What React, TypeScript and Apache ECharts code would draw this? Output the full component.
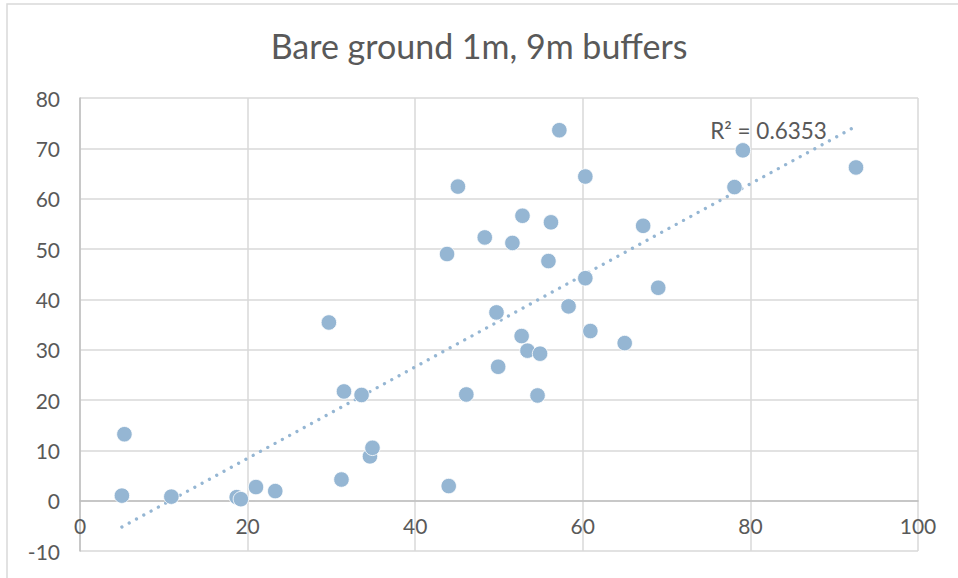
import React, { useEffect, useRef } from "react";
import * as echarts from "echarts";

// Paired plot measurements: 1m buffer (x) vs 9m buffer (y), percent bare ground
const buffer1m: number[] = [
  5.0, 5.3, 10.9, 18.7, 19.2, 21.0, 23.3, 29.7, 31.2, 31.5, 33.6, 34.6, 34.9,
  43.8, 44.0, 45.1, 46.1, 48.3, 49.7, 49.9, 51.6, 52.7, 52.8, 53.4, 54.6, 54.9,
  55.9, 56.2, 57.2, 58.3, 60.3, 60.3, 60.9, 65.0, 67.2, 69.0, 78.1, 79.1, 92.6,
];
const buffer9m: number[] = [
  1.0, 13.2, 0.8, 0.7, 0.3, 2.7, 1.9, 35.4, 4.2, 21.7, 21.0, 8.8, 10.5,
  49.0, 2.9, 62.4, 21.1, 52.3, 37.4, 26.6, 51.2, 32.7, 56.6, 29.8, 20.9, 29.2,
  47.6, 55.3, 73.6, 38.6, 64.4, 44.2, 33.7, 31.3, 54.6, 42.3, 62.3, 69.6, 66.2,
];

// Linear trendline y = slope * x + intercept
const trendSlope = 0.909;
const trendIntercept = -9.78;

const xTicks = { min: 0, max: 100, interval: 20 };
const yTicks = { min: -10, max: 80, interval: 10 };
const titleText = "Bare ground 1m, 9m buffers";
const rSquaredText = "R² = 0.6353";
const rSquaredAnchor = [75.2, 73.5];

const POINT_COLOR = "#95b6d3";
const TEXT_COLOR = "#595959";
const FONT = "Lato, 'Open Sans', sans-serif";

const frame = {
  type: "rect",
  shape: { x: 7, y: 4, width: 1000, height: 1000 },
  style: { fill: "none", stroke: "#d9d9d9", lineWidth: 1.5 },
  silent: true,
  z: -1,
};

export default function App() {
  const ref = useRef<HTMLDivElement>(null);

  useEffect(() => {
    document.body.style.margin = "0";
    if (!ref.current) return;
    const chart = echarts.init(ref.current, null, { renderer: "svg" });

    const points = buffer1m.map((x, i) => [x, buffer9m[i]]);
    const xMin = Math.min(...buffer1m);
    const xMax = Math.max(...buffer1m);
    const trend = [
      [xMin, trendIntercept + trendSlope * xMin],
      [xMax, trendIntercept + trendSlope * xMax],
    ];

    chart.setOption({
      animation: false,
      backgroundColor: "#ffffff",
      title: {
        text: titleText,
        left: "center",
        top: 23,
        textStyle: {
          color: TEXT_COLOR,
          fontFamily: FONT,
          fontSize: 34,
          fontWeight: "normal",
        },
      },
      graphic: [frame],
      grid: {
        left: 80,
        right: 40,
        top: 98,
        bottom: 27,
        containLabel: false,
        outerBoundsMode: "none",
      },
      xAxis: {
        type: "value",
        min: xTicks.min,
        max: xTicks.max,
        interval: xTicks.interval,
        axisLine: { onZero: true, lineStyle: { color: "#bfbfbf", width: 1.5 } },
        axisTick: { show: false },
        axisLabel: {
          color: TEXT_COLOR,
          fontFamily: FONT,
          fontSize: 21,
          // labels sit just under the zero line, inside the plot
          margin: -36,
        },
        splitLine: { lineStyle: { color: "#d9d9d9", width: 1.5 } },
      },
      yAxis: {
        type: "value",
        min: yTicks.min,
        max: yTicks.max,
        interval: yTicks.interval,
        axisLine: { show: true, onZero: false, lineStyle: { color: "#bfbfbf", width: 1.5 } },
        axisTick: { show: false },
        axisLabel: {
          color: TEXT_COLOR,
          fontFamily: FONT,
          fontSize: 21,
          margin: 20,
        },
        splitLine: { lineStyle: { color: "#d9d9d9", width: 1.5 } },
      },
      series: [
        {
          type: "line",
          data: trend,
          symbol: "none",
          silent: true,
          lineStyle: {
            color: POINT_COLOR,
            width: 3.3,
            type: [0.01, 8.3],
            cap: "round",
          },
          z: 2,
        },
        {
          type: "scatter",
          data: points,
          symbolSize: 15.5,
          itemStyle: {
            color: POINT_COLOR,
            opacity: 1,
            borderColor: "#ffffff",
            borderWidth: 0.8,
          },
          z: 3,
        },
      ],
    });

    // Trendline R² label near the upper end of the fit
    const [lx, ly] = chart.convertToPixel({ gridIndex: 0 }, rSquaredAnchor) as number[];
    chart.setOption({
      graphic: [
        frame,
        {
          type: "text",
          x: lx,
          y: ly,
          style: {
            text: rSquaredText,
            fill: TEXT_COLOR,
            font: `22.5px ${FONT}`,
            textVerticalAlign: "middle",
            textAlign: "left",
          },
          z: 10,
        },
      ],
    });

    return () => chart.dispose();
  }, []);

  return <div ref={ref} style={{ width: 958, height: 578 }} />;
}
